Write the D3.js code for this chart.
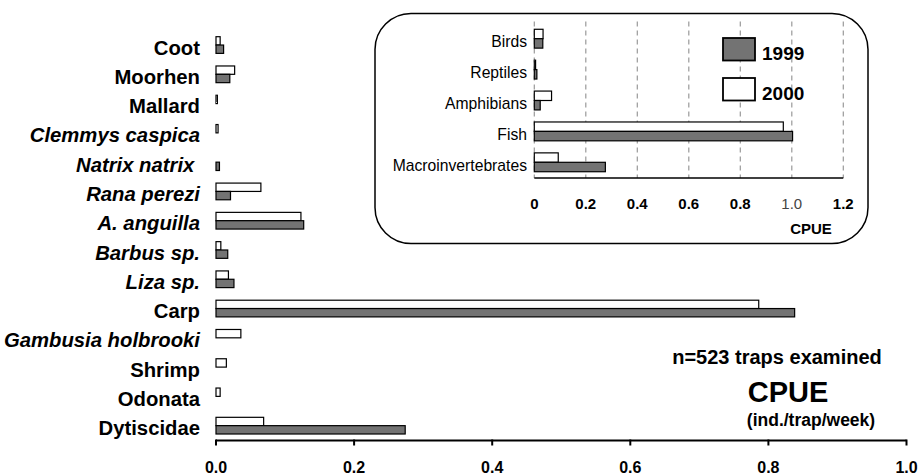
<!DOCTYPE html>
<html>
<head>
<meta charset="utf-8">
<script src="https://cdn.jsdelivr.net/npm/d3@7"></script>
<style>
  body { margin: 0; background: #fff; }
  svg { display: block; font-family: "Liberation Sans", Arial, sans-serif; }
</style>
</head>
<body>
<svg id="chart" width="918" height="476"></svg>
<script>
// Main chart: CPUE per taxon (ind./trap/week)
const taxa = ['Coot', 'Moorhen', 'Mallard', 'Clemmys caspica', 'Natrix natrix ', 'Rana perezi',
              'A. anguilla', 'Barbus sp.', 'Liza sp.', 'Carp', 'Gambusia holbrooki', 'Shrimp',
              'Odonata', 'Dytiscidae'];
const taxa1999 = [0.011, 0.020, 0.000, 0.000, 0.005, 0.021, 0.127, 0.017, 0.026, 0.838, 0.000, 0.000, 0.000, 0.274];
const taxa2000 = [0.006, 0.027, 0.002, 0.003, 0.000, 0.065, 0.123, 0.007, 0.018, 0.786, 0.036, 0.015, 0.006, 0.069];
const italicTaxa = ['Clemmys caspica', 'Natrix natrix ', 'Rana perezi', 'A. anguilla', 'Barbus sp.', 'Liza sp.', 'Gambusia holbrooki'];
const mainTicks = [0, 0.2, 0.4, 0.6, 0.8, 1.0];

// Inset: CPUE per group
const groups = ['Birds', 'Reptiles', 'Amphibians', 'Fish', 'Macroinvertebrates'];
const groups1999 = [0.033, 0.010, 0.023, 1.003, 0.276];
const groups2000 = [0.034, 0.005, 0.067, 0.967, 0.093];
const insetTicks = [0, 0.2, 0.4, 0.6, 0.8, 1.0, 1.2];
const insetTickLabels = ['0', '0.2', '0.4', '0.6', '0.8', '1.0', '1.2'];

const years = ['2000', '1999'];
const yearFill = { '1999': '#737373', '2000': '#ffffff' };

const svg = d3.select('#chart');

// ---------- main chart ----------
const x = d3.scaleLinear().domain([0, 1]).range([216, 906.5]);
const y = d3.scaleBand().domain(taxa).range([30.4, 440.3]).paddingInner(0.43).paddingOuter(0.215);
const ySub = d3.scaleBand().domain(years).range([0, y.bandwidth()]);

const rows = taxa.map((t, i) => ({ name: t, values: { '1999': taxa1999[i], '2000': taxa2000[i] } }));

const main = svg.append('g');
const rowG = main.selectAll('.row').data(rows).enter().append('g')
    .attr('transform', d => 'translate(0,' + y(d.name) + ')');

rowG.selectAll('rect')
    .data(d => years.map(yr => ({ yr, v: d.values[yr] })).filter(b => b.v > 0))
    .enter().append('rect')
    .attr('x', x(0))
    .attr('y', b => ySub(b.yr))
    .attr('width', b => Math.max(x(b.v) - x(0), 1))
    .attr('height', ySub.bandwidth())
    .attr('fill', b => yearFill[b.yr])
    .attr('stroke', '#000')
    .attr('stroke-width', 1.2);

rowG.append('text')
    .attr('x', 200)
    .attr('y', y.bandwidth() / 2 + 9.5)
    .attr('text-anchor', 'end')
    .attr('xml:space', 'preserve')
    .style('font-size', '20.3px')
    .style('font-weight', 'bold')
    .style('font-style', d => italicTaxa.includes(d.name) ? 'italic' : 'normal')
    .text(d => d.name);

const axisG = main.append('g').attr('transform', 'translate(0,440.5)');
axisG.append('line')
    .attr('x1', x(0)).attr('x2', x(1))
    .attr('stroke', '#000').attr('stroke-width', 2);
axisG.selectAll('.tick').data(mainTicks).enter().append('line')
    .attr('x1', d => x(d)).attr('x2', d => x(d))
    .attr('y1', -1).attr('y2', 5)
    .attr('stroke', '#000').attr('stroke-width', 2);
axisG.selectAll('.lbl').data(mainTicks).enter().append('text')
    .attr('x', d => x(d))
    .attr('y', 32.5)
    .attr('text-anchor', 'middle')
    .style('font-size', '16px')
    .style('font-weight', 'bold')
    .text(d => d3.format('.1f')(d));

// annotations
svg.append('text').attr('x', 777).attr('y', 364).attr('text-anchor', 'middle')
    .style('font-size', '20px').style('font-weight', 'bold').text('n=523 traps examined');
svg.append('text').attr('x', 788).attr('y', 402).attr('text-anchor', 'middle')
    .style('font-size', '29px').style('font-weight', 'bold').text('CPUE');
svg.append('text').attr('x', 811).attr('y', 426).attr('text-anchor', 'middle')
    .style('font-size', '17.5px').style('font-weight', 'bold').text('(ind./trap/week)');

// ---------- inset ----------
const inset = svg.append('g');
inset.append('rect')
    .attr('x', 375).attr('y', 13.5).attr('width', 493).attr('height', 230)
    .attr('rx', 36).attr('ry', 36)
    .attr('fill', '#fff').attr('stroke', '#000').attr('stroke-width', 1.5);

const xi = d3.scaleLinear().domain([0, 1.2]).range([534.3, 843.3]);
const yi = d3.scaleBand().domain(groups).range([23.25, 177.75]).paddingInner(0.39).paddingOuter(0.195);
const yiSub = d3.scaleBand().domain(years).range([0, yi.bandwidth()]);

inset.selectAll('.grid').data(insetTicks).enter().append('line')
    .attr('x1', d => xi(d)).attr('x2', d => xi(d))
    .attr('y1', 21.5).attr('y2', 178)
    .attr('stroke', '#9a9a9a').attr('stroke-width', 1.2)
    .attr('stroke-dasharray', '5,4');

const gRows = groups.map((g, i) => ({ name: g, values: { '1999': groups1999[i], '2000': groups2000[i] } }));
const gRowG = inset.selectAll('.grow').data(gRows).enter().append('g')
    .attr('transform', d => 'translate(0,' + yi(d.name) + ')');

gRowG.selectAll('rect')
    .data(d => years.map(yr => ({ yr, v: d.values[yr] })))
    .enter().append('rect')
    .attr('x', xi(0))
    .attr('y', b => yiSub(b.yr))
    .attr('width', b => Math.max(xi(b.v) - xi(0), 1))
    .attr('height', yiSub.bandwidth())
    .attr('fill', b => yearFill[b.yr])
    .attr('stroke', '#000')
    .attr('stroke-width', 1.2);

gRowG.append('text')
    .attr('x', 527)
    .attr('y', yi.bandwidth() / 2 + 8.8)
    .attr('text-anchor', 'end')
    .style('font-size', '15.7px')
    .text(d => d.name);

inset.append('line')
    .attr('x1', xi(0)).attr('x2', xi(1.2))
    .attr('y1', 178).attr('y2', 178)
    .attr('stroke', '#000').attr('stroke-width', 1.5);

inset.selectAll('.ilbl').data(insetTicks).enter().append('text')
    .attr('x', d => xi(d))
    .attr('y', 208.5)
    .attr('text-anchor', 'middle')
    .style('font-size', '15px')
    .style('font-weight', (d, i) => insetTickLabels[i] === '1.0' ? 'normal' : 'bold')
    .style('fill', (d, i) => insetTickLabels[i] === '1.0' ? '#444' : '#000')
    .text((d, i) => insetTickLabels[i]);

inset.append('text').attr('x', 811).attr('y', 233.5).attr('text-anchor', 'middle')
    .style('font-size', '15px').style('font-weight', 'bold').text('CPUE');

// legend
const legendYears = ['1999', '2000'];
const leg = inset.selectAll('.leg').data(legendYears).enter().append('g')
    .attr('transform', (d, i) => 'translate(723,' + (38 + i * 40) + ')');
leg.append('rect')
    .attr('width', 32).attr('height', 22.5)
    .attr('fill', d => yearFill[d])
    .attr('stroke', '#000').attr('stroke-width', 1.8);
leg.append('text')
    .attr('x', 39).attr('y', 22)
    .style('font-size', '19px').style('font-weight', 'bold')
    .text(d => d);
</script>
</body>
</html>
